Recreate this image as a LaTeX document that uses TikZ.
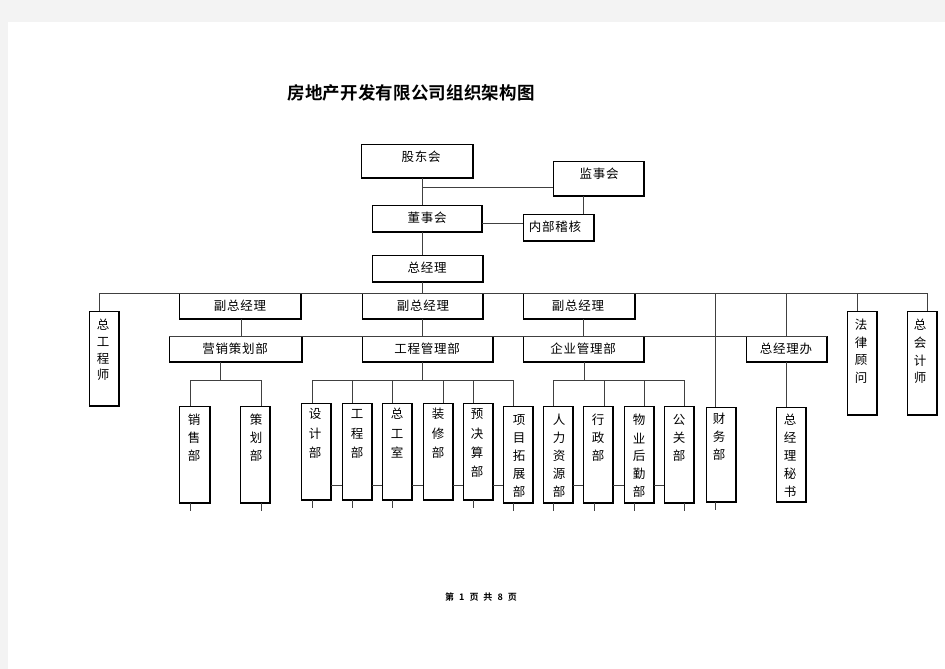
\documentclass[tikz,border=0pt]{standalone}
\usepackage{fontspec}
\newfontfamily\cjk[LetterSpace=6]{Noto Sans CJK SC}
\newfontfamily\cjkb[LetterSpace=1]{Noto Sans CJK SC Bold}
\definecolor{pagebg}{HTML}{F3F3F3}
\tikzset{
  box/.style={draw=black, line width=0.9pt, inner sep=0pt, outer sep=0pt, fill=white},
  shadowline/.style={draw=black, line width=1.8pt},
  conn/.style={draw=black!75, line width=0.9pt},
  txt/.style={inner sep=0pt, font=\cjk\fontsize{12.5}{14}\selectfont},
}
\newcommand\vlab[5]{\foreach \c [count=\i from 0] in {#5}{\node[txt] (#1-\i) at (#2,{#3+\i*#4}) {\c};}}
\begin{document}
\begin{tikzpicture}[x=1pt,y=-1pt]
\useasboundingbox (0,0) rectangle (945,669);
\fill[pagebg] (0,0) rectangle (945,669);
\fill[white] (8,22) rectangle (945,669);

% title
\node[inner sep=0pt, font=\cjkb\fontsize{17.5}{20}\selectfont] (title) at (411,93) {房地产开发有限公司组织架构图};

% ---- boxes ----
\node[box, minimum width=112pt, minimum height=34pt] (gdh) at (417,161) {};
\node[box, minimum width=91pt, minimum height=35pt] (jsh) at (598.5,178.5) {};
\node[box, minimum width=110pt, minimum height=27pt] (dsh) at (427,218.5) {};
\node[box, minimum width=71pt, minimum height=27pt] (nbjh) at (558.5,227.5) {};
\node[box, minimum width=111pt, minimum height=27pt] (zjl) at (427.5,268.5) {};

\node[box, minimum width=30pt, minimum height=95pt] (zgcs) at (104,358.5) {};
\node[box, minimum width=122pt, minimum height=26pt] (fz1) at (240,306) {};
\node[box, minimum width=121pt, minimum height=26pt] (fz2) at (422.5,306) {};
\node[box, minimum width=112pt, minimum height=26pt] (fz3) at (579,306) {};
\node[box, minimum width=30pt, minimum height=104pt] (flgw) at (862,363) {};
\node[box, minimum width=30pt, minimum height=104pt] (zkjs) at (922,363) {};

\node[box, minimum width=133pt, minimum height=26pt] (yxch) at (235.5,349) {};
\node[box, minimum width=131pt, minimum height=26pt] (gcgl) at (427.5,349) {};
\node[box, minimum width=121pt, minimum height=26pt] (qygl) at (583.5,349) {};
\node[box, minimum width=81pt, minimum height=26pt] (zjlb) at (786.5,349) {};

\node[box, minimum width=31pt, minimum height=97pt] (xsb) at (194.5,454.5) {};
\node[box, minimum width=30pt, minimum height=97pt] (chb) at (255,454.5) {};

\node[box, minimum width=30pt, minimum height=97pt] (sjb) at (316,451.5) {};
\node[box, minimum width=30pt, minimum height=97pt] (gcb) at (357,451.5) {};
\node[box, minimum width=30pt, minimum height=97pt] (zgs) at (397,451.5) {};
\node[box, minimum width=30pt, minimum height=97pt] (zxb) at (438,451.5) {};
\node[box, minimum width=30pt, minimum height=97pt] (yjsb) at (478,451.5) {};
\node[box, minimum width=30pt, minimum height=97pt] (xmtz) at (518,454.5) {};

\node[box, minimum width=30pt, minimum height=97pt] (rlzy) at (558,454.5) {};
\node[box, minimum width=30pt, minimum height=97pt] (xzb) at (598,454.5) {};
\node[box, minimum width=30pt, minimum height=97pt] (wyhq) at (639,454.5) {};
\node[box, minimum width=30pt, minimum height=97pt] (ggb) at (679,454.5) {};

\node[box, minimum width=30pt, minimum height=95pt] (cwb) at (721,454.5) {};
\node[box, minimum width=30pt, minimum height=95pt] (zjlms) at (791,454.5) {};

% shadow edges
\foreach \n in {gdh,jsh,dsh,nbjh,zjl,zgcs,fz1,fz2,fz3,flgw,zkjs,yxch,gcgl,qygl,zjlb,xsb,chb,sjb,gcb,zgs,zxb,yjsb,xmtz,rlzy,xzb,wyhq,ggb,cwb,zjlms}
  \draw[shadowline] (\n.north east) -- (\n.south east) -- (\n.south west);

% ---- labels ----
\node[txt] (gdh-t) at (421,157) {股东会};
\node[txt] (jsh-t) at (599,174) {监事会};
\node[txt] (dsh-t) at (427,218) {董事会};
\node[txt] (nbjh-t) at (555,227) {内部稽核};
\node[txt] (zjl-t) at (427,268) {总经理};
\node[txt] (fz1-t) at (240,306) {副总经理};
\node[txt] (fz2-t) at (423,306) {副总经理};
\node[txt] (fz3-t) at (578,306) {副总经理};
\node[txt] (yxch-t) at (235,349) {营销策划部};
\node[txt] (gcgl-t) at (427,349) {工程管理部};
\node[txt] (qygl-t) at (583,349) {企业管理部};
\node[txt] (zjlb-t) at (786,349) {总经理办};

\vlab{zgcs-t}{103}{325}{16.7}{总,工,程,师}
\vlab{flgw-t}{861}{325}{17.7}{法,律,顾,问}
\vlab{zkjs-t}{920}{325}{17.7}{总,会,计,师}
\vlab{xsb-t}{194}{420}{18}{销,售,部}
\vlab{chb-t}{256}{420}{18}{策,划,部}
\vlab{sjb-t}{315}{414}{19.5}{设,计,部}
\vlab{gcb-t}{357}{414}{19.5}{工,程,部}
\vlab{zgs-t}{397}{414}{19.5}{总,工,室}
\vlab{zxb-t}{438}{414}{19.5}{装,修,部}
\vlab{yjsb-t}{477}{414}{19.3}{预,决,算,部}
\vlab{xmtz-t}{519}{420}{18}{项,目,拓,展,部}
\vlab{rlzy-t}{559}{420}{18}{人,力,资,源,部}
\vlab{xzb-t}{598}{420}{18}{行,政,部}
\vlab{wyhq-t}{639}{420}{18}{物,业,后,勤,部}
\vlab{ggb-t}{679}{420}{18}{公,关,部}
\vlab{cwb-t}{719}{419}{18}{财,务,部}
\vlab{zjlms-t}{790}{420}{18}{总,经,理,秘,书}

% ---- connectors ----
\coordinate (t1) at (422,187);
\coordinate (t2) at (482,223);
\coordinate (t3) at (583,0);
\draw[conn] (t1 |- gdh.south) -- (t1 |- dsh.north);
\draw[conn] (t1) -- (t1 -| jsh.west);
\draw[conn] (dsh.east |- t2) -- (nbjh.west |- t2);
\draw[conn] (t3 |- jsh.south) -- (t3 |- nbjh.north);
\draw[conn] (t1 |- dsh.south) -- (t1 |- zjl.north);

\coordinate (bus-l) at (99,293);
\coordinate (bus-r) at (927,293);
\draw[conn] (t1 |- zjl.south) -- (t1 |- bus-l);
\draw[conn] (bus-l) -- (bus-r);
\draw[conn] (bus-l) -- (bus-l |- zgcs.north);
\draw[conn] (bus-r) -- (bus-r |- zkjs.north);
\coordinate (c857) at (857,293);
\draw[conn] (c857) -- (c857 |- flgw.north);
\coordinate (c715) at (715,293);
\draw[conn] (c715) -- (c715 |- cwb.north);
\coordinate (c786) at (786,293);
\draw[conn] (c786) -- (c786 |- zjlb.north);
\draw[conn] (c786 |- zjlb.south) -- (c786 |- zjlms.north);

\coordinate (m1) at (241,0);
\coordinate (m3) at (583,0);
\draw[conn] (m1 |- fz1.south) -- (m1 |- yxch.north);
\draw[conn] (t1 |- fz2.south) -- (t1 |- gcgl.north);
\draw[conn] (m3 |- fz3.south) -- (m3 |- qygl.north);
\draw[conn] (yxch.north west) -- (zjlb.north east);

% marketing group
\coordinate (mk) at (220,380);
\coordinate (mk-l) at (190,380);
\coordinate (mk-r) at (261,380);
\draw[conn] (mk |- yxch.south) -- (mk);
\draw[conn] (mk-l) -- (mk-r);
\draw[conn] (mk-l) -- (mk-l |- xsb.north);
\draw[conn] (mk-r) -- (mk-r |- chb.north);

% engineering group
\coordinate (en) at (422,380);
\draw[conn] (en |- gcgl.south) -- (en);
\coordinate (e1) at (312,380);
\coordinate (e2) at (352,380);
\coordinate (e3) at (392,380);
\coordinate (e4) at (443,380);
\coordinate (e5) at (473,380);
\coordinate (e6) at (513,380);
\draw[conn] (e1) -- (e6);
\draw[conn] (e1) -- (e1 |- sjb.north);
\draw[conn] (e2) -- (e2 |- gcb.north);
\draw[conn] (e3) -- (e3 |- zgs.north);
\draw[conn] (e4) -- (e4 |- zxb.north);
\draw[conn] (e5) -- (e5 |- yjsb.north);
\draw[conn] (e6) -- (e6 |- xmtz.north);

% corporate group
\coordinate (cp) at (584,380);
\draw[conn] (cp |- qygl.south) -- (cp);
\coordinate (p1) at (553,380);
\coordinate (p2) at (604,380);
\coordinate (p3) at (644,380);
\coordinate (p4) at (684,380);
\draw[conn] (p1) -- (p4);
\draw[conn] (p1) -- (p1 |- rlzy.north);
\draw[conn] (p2) -- (p2 |- xzb.north);
\draw[conn] (p3) -- (p3 |- wyhq.north);
\draw[conn] (p4) -- (p4 |- ggb.north);

% links between adjacent boxes
\coordinate (h) at (0,485);
\foreach \a/\b in {sjb/gcb,gcb/zgs,zgs/zxb,zxb/yjsb,yjsb/xmtz,rlzy/xzb,xzb/wyhq,wyhq/ggb}
  \draw[conn] (\a.east |- h) -- (\b.west |- h);

% stubs below boxes
\foreach \x/\n in {190/xsb,261/chb,312/sjb,352/gcb,392/zgs,473/yjsb,513/xmtz,553/rlzy,594/xzb,634/wyhq,684/ggb,715/cwb}
  \draw[conn] (\x,0 |- \n.south) -- ++(0,8);

% footer
\node[inner sep=0pt, font=\cjkb\fontsize{9}{10}\selectfont] (footer) at (481,597) {第\hspace{5pt}1\hspace{5pt}页\hspace{5pt}共\hspace{5pt}8\hspace{5pt}页};
\end{tikzpicture}
\end{document}
